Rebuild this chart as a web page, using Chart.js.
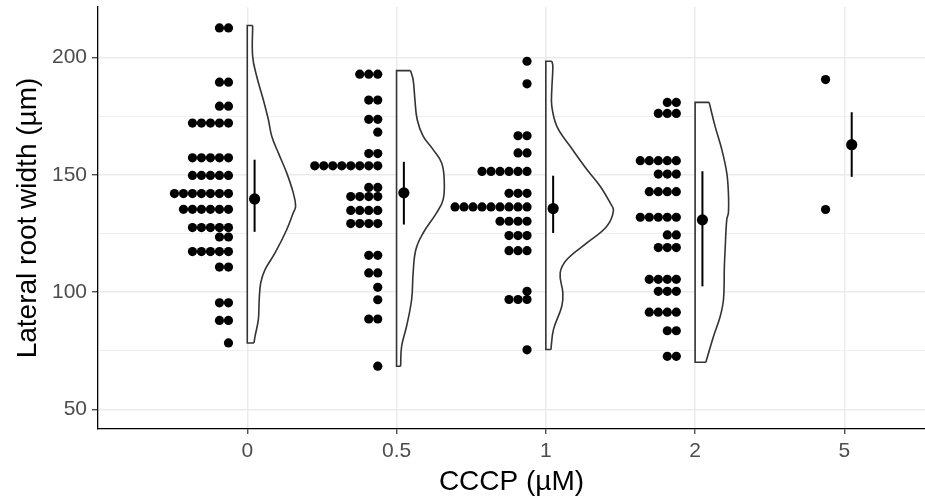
<!DOCTYPE html>
<html><head><meta charset="utf-8">
<script src="https://cdn.jsdelivr.net/npm/chart.js@4.4.1/dist/chart.umd.min.js"></script>
<style>html,body{margin:0;padding:0;background:#fff;}canvas{display:block;}</style>
</head><body>
<canvas id="c" width="925" height="503"></canvas>
<script>
// ---- data ----
const categories = ['0', '0.5', '1', '2', '5'];

const dots_0 = [212.5,212.5, 189.4,189.4, 179.2,179.2, 172,172,172,172,172,
  157.2,157.2,157.2,157.2,157.2, 149.7,149.7,149.7,149.7,149.7,
  142,142,142,142,142,142,142, 135.3,135.3,135.3,135.3,135.3,135.3,
  127.5,127.5,127.5,127.5,127.5, 123.5,123.5, 117.3,117.3,117.3,117.3,117.3,
  110.7,110.7, 95.5,95.5, 88,88, 78.4];
const dots_05 = [192.8,192.8,192.8, 181.8,181.8, 173.6,173.6, 168.1, 159,159,
  153.8,153.8,153.8,153.8,153.8,153.8,153.8,153.8, 144.6,144.6,
  140.7,140.7,140.7,140.7, 134.8,134.8,134.8,134.8, 129.2,129.2,129.2,129.2,
  115.7,115.7, 108.2,108.2, 102.1, 96.8, 88.6,88.6, 68.5];
const dots_1 = [198.3, 188.7, 166.6,166.6, 159.3,159.3, 151.4,151.4,151.4,151.4,151.4,151.4,
  142.1,142.1,142.1, 136.3,136.3,136.3,136.3,136.3,136.3,136.3,136.3,136.3,
  130.2,130.2,130.2,130.2, 124.1,124.1,124.1, 117.7,117.7,117.7, 100.4, 96.9,96.9,96.9, 75.5];
const dots_2 = [180.8,180.8, 176.1,176.1,176.1, 156,156,156,156,156, 150.3,150.3,150.3,
  142.8,142.8,142.8,142.8, 131.9,131.9,131.9,131.9,131.9, 124.4,124.4, 119,119,119,
  105.5,105.5,105.5,105.5, 100.4,100.4,100.4, 91.5,91.5,91.5,91.5, 83.6,83.6, 72.7,72.7];
const dots_5 = [190.5, 135.2];

const means  = [139.7, 142.3, 135.6, 130.8, 162.8];
const ciLow  = [125.7, 128.8, 125.2, 102.5, 149.1];
const ciHigh = [156.4, 155.5, 149.6, 151.5, 176.6];

// half-violin outlines: value and half-width (in category units)
const violinY_0 = [213.5,200.4,191.9,182.0,173.5,166.4,159.3,150.8,142.3,136.6,133.8,126.6,116.7,109.6,104.0,96.9,88.3,81.2,78.4];
const violinW_0 = [0.036,0.036,0.063,0.107,0.141,0.164,0.208,0.264,0.308,0.324,0.308,0.264,0.186,0.119,0.090,0.080,0.074,0.052,0.045];
const violinY_05 = [194.3,190.5,182.0,173.5,166.4,160.7,155.0,147.9,139.4,133.8,125.2,118.1,108.2,96.9,85.5,77.0,68.5];
const violinW_05 = [0.094,0.111,0.123,0.138,0.178,0.245,0.302,0.319,0.312,0.268,0.178,0.129,0.111,0.101,0.067,0.034,0.027];
const violinY_1 = [198.3,196.2,186.2,179.1,170.6,162.1,152.2,145.1,138.0,134.7,128.1,121.0,113.9,108.2,99.7,94.0,84.1,75.6];
const violinW_1 = [0.040,0.047,0.040,0.040,0.074,0.163,0.275,0.364,0.431,0.453,0.409,0.275,0.141,0.096,0.114,0.107,0.051,0.034];
const violinY_2 = [180.8,170.6,160.7,150.8,142.3,133.8,130.9,118.1,111.0,96.9,89.7,81.2,70.2];
const violinW_2 = [0.094,0.134,0.179,0.212,0.223,0.223,0.212,0.201,0.196,0.190,0.168,0.123,0.072];

const yTicks = [50, 100, 150, 200];
const yMinorTicks = [75, 125, 175];

// ---- build ----
const FONT = "'Liberation Sans', Arial, Helvetica, sans-serif";
const DOT_OFFSET = 0.126, DOT_STEP = 0.0603, MEAN_OFFSET = 0.049;
const groups = [dots_0, dots_05, dots_1, dots_2, dots_5];
const violins = [[violinY_0, violinW_0], [violinY_05, violinW_05], [violinY_1, violinW_1], [violinY_2, violinW_2], null];

function stackDots(vals, center) {
  const counts = {};
  return vals.map(v => {
    const k = counts[v] || 0; counts[v] = k + 1;
    return { x: center - DOT_OFFSET - k * DOT_STEP, y: v };
  });
}

const datasets = [];
violins.forEach((vw, i) => {
  if (!vw) return;
  const c = i + 1, ys = vw[0], ws = vw[1], n = ys.length;
  const curve = ys.map((y, j) => ({ x: c + ws[j], y }));
  datasets.push({ data: [{ x: c, y: ys[0] }, ...curve, { x: c, y: ys[n - 1] }], showLine: true,
    fill: 'shape', backgroundColor: '#ffffff', borderWidth: 0, pointRadius: 0, tension: 0, order: 10 });
  datasets.push({ data: curve, showLine: true, fill: false, borderColor: '#333333', borderWidth: 1.6,
    pointRadius: 0, tension: 0.4, order: 9 });
  datasets.push({ data: [{ x: c + ws[0], y: ys[0] }, { x: c, y: ys[0] }, { x: c, y: ys[n - 1] }, { x: c + ws[n - 1], y: ys[n - 1] }],
    showLine: true, fill: false, borderColor: '#333333', borderWidth: 1.6, pointRadius: 0, tension: 0, order: 9 });
});
groups.forEach((g, i) => {
  datasets.push({ data: stackDots(g, i + 1), showLine: false, pointRadius: 4.6, pointBackgroundColor: '#000',
    pointBorderWidth: 0, order: 5 });
});
categories.forEach((c, i) => {
  datasets.push({ data: [{ x: i + 1 + MEAN_OFFSET, y: ciLow[i] }, { x: i + 1 + MEAN_OFFSET, y: ciHigh[i] }],
    showLine: true, borderColor: '#000', borderWidth: 2, pointRadius: 0, order: 1 });
});
datasets.push({ data: means.map((m, i) => ({ x: i + 1 + MEAN_OFFSET, y: m })), showLine: false,
  pointRadius: 5.6, pointBackgroundColor: '#000', pointBorderWidth: 0, order: 0 });

const allY = yMinorTicks.concat(yTicks).sort((a, b) => a - b);
const isMajor = v => yTicks.includes(v);

new Chart(document.getElementById('c'), {
  type: 'scatter',
  data: { datasets },
  options: {
    responsive: false, animation: false, devicePixelRatio: 1,
    layout: { autoPadding: false, padding: { top: 7, right: 0, left: 0, bottom: 0 } },
    plugins: { legend: { display: false }, tooltip: { enabled: false } },
    scales: {
      x: {
        type: 'linear', min: 0, max: 5.54,
        afterBuildTicks: s => { s.ticks = categories.map((c, i) => ({ value: i + 1 })); },
        afterFit: s => { s.height = 74; s.paddingLeft = 0; s.paddingRight = 0; },
        ticks: { callback: v => categories[v - 1] ?? '', color: '#4d4d4d', font: { family: FONT, size: 21 },
          padding: 5, maxRotation: 0, autoSkip: false },
        grid: { color: '#ebebeb', lineWidth: 1.5, tickColor: '#333333', tickLength: 5, tickWidth: 1.2 },
        border: { display: true, color: '#000', width: 1.3 },
        title: { display: true, text: 'CCCP (µM)', color: '#000', font: { family: FONT, size: 28 },
          padding: { top: 0, bottom: 4 } }
      },
      y: {
        type: 'linear', min: 41.78, max: 221.4,
        afterBuildTicks: s => { s.ticks = allY.map(v => ({ value: v })); },
        afterFit: s => { s.width = 98; s.paddingTop = 0; s.paddingBottom = 0; },
        ticks: { callback: v => isMajor(v) ? String(v) : '', color: '#4d4d4d', font: { family: FONT, size: 21 },
          padding: 5, autoSkip: false },
        grid: {
          color: '#ebebeb',
          lineWidth: ctx => isMajor(ctx.tick.value) ? 1.5 : 0.8,
          tickColor: ctx => isMajor(ctx.tick.value) ? '#333333' : 'rgba(0,0,0,0)',
          tickLength: 6, tickWidth: 1.2
        },
        border: { display: true, color: '#000', width: 1.3 },
        title: { display: true, text: 'Lateral root width (µm)', color: '#000', font: { family: FONT, size: 28 },
          padding: { top: 11, bottom: 0 } }
      }
    }
  }
});
</script>
</body></html>
